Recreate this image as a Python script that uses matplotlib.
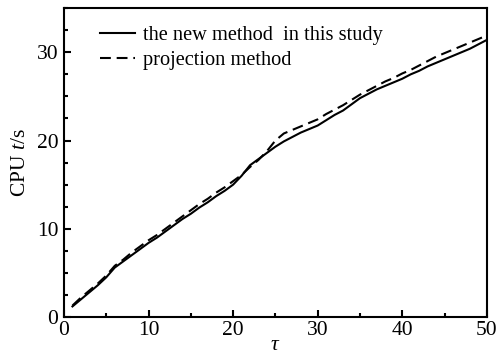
import matplotlib
matplotlib.use("Agg")
import matplotlib.pyplot as plt
from matplotlib.ticker import MultipleLocator

plt.rcParams['font.family'] = ['Liberation Serif', 'DejaVu Serif']
plt.rcParams['mathtext.fontset'] = 'custom'
plt.rcParams['mathtext.it'] = 'Liberation Serif:italic'
plt.rcParams['mathtext.rm'] = 'Liberation Serif'

# data
tau = list(range(1, 51))
new_method = [1.2, 2.0, 2.8, 3.6, 4.5, 5.6, 6.3, 7.0, 7.7, 8.4,
              9.0, 9.7, 10.4, 11.1, 11.7, 12.4, 13.0, 13.7, 14.3, 15.0,
              16.0, 17.2, 17.9, 18.6, 19.3, 19.9, 20.4, 20.9, 21.3, 21.7,
              22.3, 22.9, 23.4, 24.1, 24.8, 25.3, 25.8, 26.2, 26.6, 27.0,
              27.5, 27.9, 28.4, 28.8, 29.2, 29.6, 30.0, 30.4, 30.9, 31.4]
projection = [1.3, 2.2, 3.0, 3.8, 4.7, 5.8, 6.5, 7.3, 8.0, 8.7,
              9.3, 10.0, 10.7, 11.4, 12.1, 12.8, 13.4, 14.1, 14.7, 15.4,
              16.1, 17.0, 17.8, 18.8, 20.0, 20.8, 21.2, 21.6, 22.0, 22.4,
              23.0, 23.5, 24.0, 24.6, 25.2, 25.7, 26.2, 26.7, 27.1, 27.6,
              28.0, 28.5, 29.0, 29.5, 29.9, 30.3, 30.7, 31.1, 31.5, 31.9]

fig = plt.figure(figsize=(4.98, 3.55), dpi=100)
ax = fig.add_axes([0.1285, 0.107, 0.849, 0.870])

ax.plot(tau, new_method, color='black', lw=1.5, label='the new method  in this study')
ax.plot(tau, projection, color='black', lw=1.5, dashes=(5.2, 2.8), label='projection method')

ax.set_xlim(0, 50)
ax.set_ylim(0, 35)
ax.xaxis.set_major_locator(MultipleLocator(10))
ax.xaxis.set_minor_locator(MultipleLocator(5))
ax.yaxis.set_major_locator(MultipleLocator(10))
ax.yaxis.set_minor_locator(MultipleLocator(2.5))
ax.tick_params(which='both', direction='in', labelsize=15.5, width=1.5)
ax.tick_params(which='major', length=5)
ax.tick_params(axis='x', which='major', pad=3)
ax.tick_params(axis='y', which='major', pad=4)
ax.tick_params(which='minor', length=3)
for sp in ax.spines.values():
    sp.set_linewidth(1.5)

ax.set_xlabel(r'$\tau$', fontsize=15.5, labelpad=-3)
ax.set_ylabel(r'CPU $t$/s', fontsize=15.5, labelpad=5)

ax.legend(loc='upper left', frameon=False, fontsize=14.7, handlelength=1.75,
          handletextpad=0.35, borderaxespad=0.0, labelspacing=0.3,
          bbox_to_anchor=(0.065, 0.97))

fig.savefig('out.png', dpi=100)
